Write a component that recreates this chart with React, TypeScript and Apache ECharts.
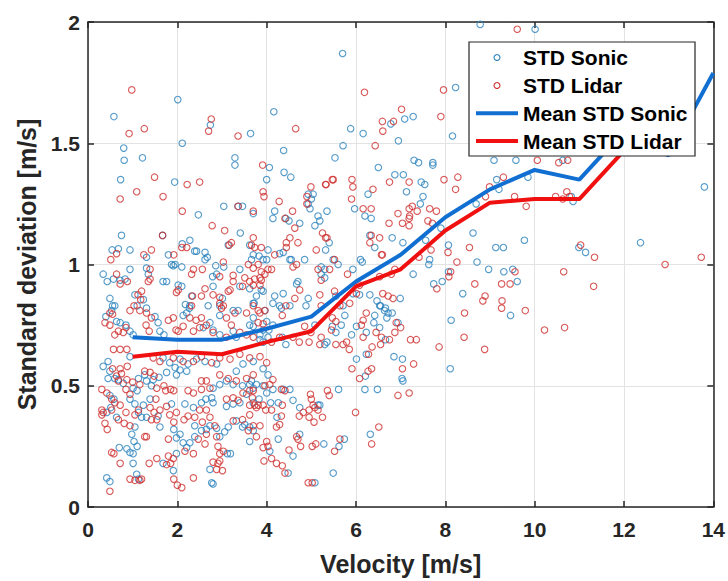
import React, { useEffect, useRef } from "react";
import * as echarts from "echarts";

// ---- data ----
const meanVelocitySonic = [1, 2, 3, 4, 5, 6, 7, 8, 9, 10, 11, 12, 13, 14];
const meanStdSonic = [0.70, 0.69, 0.69, 0.735, 0.785, 0.93, 1.04, 1.195, 1.31, 1.39, 1.35, 1.55, 1.45, 1.79];
const meanVelocityLidar = [1, 2, 3, 4, 5, 6, 7, 8, 9, 10, 11, 12, 13];
const meanStdLidar = [0.62, 0.64, 0.63, 0.68, 0.725, 0.91, 0.98, 1.14, 1.255, 1.27, 1.27, 1.47, 1.52];

const xTicks = [0, 2, 4, 6, 8, 10, 12, 14];
const yTicks = [0, 0.5, 1, 1.5, 2];

const stdSonic: number[][] = [
  [2.01,1.68],[0.58,1.61],[2.74,1.575],[3.64,1.54],[2.11,1.50],[0.80,1.48],[0.81,1.43],[1.22,1.44],[3.29,1.44],[3.29,1.41],[0.73,1.35],[1.94,1.34],
  [5.70,1.87],[8.23,1.73],[4.16,1.63],[7.28,1.61],[7.09,1.60],[6.78,1.58],[5.88,1.56],[6.16,1.54],[8.16,1.53],[6.95,1.51],[5.71,1.49],[4.38,1.47],[5.53,1.44],[4.06,1.40],[4.39,1.38],[4.54,1.36],[4.00,1.35],[6.50,1.40],[7.30,1.43],[7.40,1.42],[7.72,1.42],[7.72,1.41],[6.87,1.37],[7.06,1.37],[7.46,1.34],[7.54,1.33],
  [8.78,1.99],[10.01,1.97],[9.09,1.43],[9.58,1.43],[10.63,1.43],
  [10.86,1.26],[13.80,1.32],
  [9.85,1.36],[9.15,1.35],[9.20,1.31],[10.82,1.28],[9.77,1.10],[9.13,1.07],[9.30,1.07],[10.99,1.07],[11.14,1.05],[12.37,1.09],[8.97,0.98],[9.31,0.97],[9.51,0.98],[9.61,0.93],[9.46,0.79],
  [7.13,1.30],[7.50,1.28],[7.44,1.25],[8.69,1.25],[7.90,1.15],[8.62,1.13],[6.81,1.11],[7.05,1.09],[7.56,1.10],[8.07,1.08],[7.65,1.02],[7.63,1.00],[8.71,1.01],[7.28,0.96],[8.07,0.97],[7.93,0.93],[7.74,0.92],[6.99,0.86],[8.39,0.88],[6.53,0.83],[6.64,0.81],[6.81,0.80],[6.69,0.78],[6.53,0.74],[8.13,0.77],[6.66,0.69],[6.85,0.62],[7.04,0.61],[8.11,0.57],[7.03,0.53],[7.05,0.52],
  [5.35,0.68],[6.01,0.61],[6.21,0.54],[6.23,0.63],[6.20,0.485],[6.48,0.485],[5.61,0.485],[6.32,0.30],[5.74,0.28],[5.62,0.25],[5.49,0.14],[5.08,0.10],[5.28,0.26],[4.59,0.21],[4.48,0.14],[4.26,0.28],[4.74,0.30],[4.07,0.23],[3.62,0.27],[3.62,0.33],[4.23,0.37],[4.26,0.43],[4.09,0.43],[4.59,0.44],[4.74,0.41],[5.15,0.42],[5.19,0.42],[3.62,0.505],[3.77,0.505],[3.92,0.50],[4.14,0.485],[4.37,0.485],[4.52,0.485],[3.66,0.52],
  [4.18,1.22],[4.14,1.19],[4.43,1.19],[4.50,1.18],[4.74,1.17],[4.93,1.29],[5.04,1.29],[5.00,1.27],[4.93,1.25],[4.97,1.23],[5.15,1.20],[5.19,1.18],[5.08,1.16],[5.35,1.22],[5.32,1.06],[5.40,1.09],[5.60,1.00],[5.49,1.02],[5.97,1.23],[6.20,1.20],[6.34,1.19],[6.27,1.29],[6.42,1.07],[6.31,1.12],[6.10,1.02],[6.14,1.01],[6.94,0.76],[6.66,0.82],[6.55,0.83],[6.72,0.80],[6.47,0.85],[6.31,0.875],[6.42,0.79],[6.40,0.76],[6.23,0.72],[6.01,0.745],[5.90,0.71],[5.75,0.79],[5.67,0.75],[5.71,0.83],[5.55,0.72],[5.47,0.745],[5.30,0.67],[5.08,0.75],[4.43,0.67],[4.35,0.70],[3.92,0.68],[4.03,0.70],[3.85,0.69],[3.92,0.73],[4.05,0.73],[4.14,0.75],[4.29,0.83],[4.33,0.82],[4.14,0.84],[3.72,0.84],[3.70,0.78],[4.70,0.93],[4.67,0.92],[4.88,0.83],[4.93,0.86],[5.22,0.96],[5.30,0.945],[5.55,0.87],[5.93,0.88],[6.08,0.875],[5.93,0.98],[3.92,1.02],[4.00,1.02],[3.70,1.04],[3.66,1.02],[4.37,1.05],[4.29,1.045],[4.52,1.02],[4.55,1.02],[4.85,1.02],[5.22,0.99],[5.30,0.98],[3.88,0.895],[3.77,0.87],[4.18,0.87],[4.37,0.88],[4.52,0.83],
  [2.47,1.205],[3.04,1.24],[3.36,1.24],[3.46,1.24],[3.70,1.21],[3.14,1.08],[3.41,1.13],[3.62,1.08],[0.75,1.12],[1.67,1.12],[0.54,1.06],[0.68,1.065],[0.94,1.06],[1.31,1.03],[1.80,1.04],[1.87,1.00],[1.95,1.00],[2.10,0.99],[2.11,1.085],[2.28,1.10],[2.39,1.055],[2.43,1.055],[2.62,1.05],[2.67,1.03],[2.62,1.02],[2.79,0.95],[2.88,0.96],[2.86,0.995],[3.04,0.99],[3.40,0.98],[3.83,1.035],[4.03,1.06],[0.34,0.96],[0.43,0.93],[0.57,0.94],[0.72,0.935],[0.83,0.94],[0.94,0.98],[1.31,0.985],[1.35,0.96],[1.68,0.93],[1.91,0.995],[1.76,0.93],[2.02,0.915],[2.10,0.91],[2.18,0.835],[2.32,0.87],[2.27,0.82],[2.80,0.91],[3.40,0.91],[3.62,0.90],[3.70,0.84],[3.92,0.89],[3.96,0.81],[3.01,0.86],[2.95,0.83],[2.69,0.83],[2.95,0.79],[3.25,0.81],[3.36,0.81],[3.62,0.75],[0.49,0.86],[0.55,0.83],[0.60,0.83],[0.53,0.81],[0.40,0.785],[0.64,0.765],[0.72,0.76],[0.85,0.75],[0.94,0.725],[1.01,0.71],[1.10,0.83],[1.24,0.855],[1.05,0.875],[1.31,0.82],[1.50,0.785],[1.57,0.76],[1.61,0.725],[1.70,0.71],[2.13,0.79],[2.21,0.80],[2.28,0.83],[2.58,0.74],[2.73,0.76],[2.80,0.73],[2.95,0.71],[3.25,0.725],[3.32,0.70],[3.70,0.745],[4.00,0.765],[3.85,0.71],
  [0.94,0.62],[0.45,0.60],[0.34,0.58],[0.49,0.56],[0.45,0.53],[0.60,0.53],[0.68,0.525],[0.79,0.51],[0.49,0.46],[0.58,0.445],[0.51,0.41],[0.64,0.37],[0.42,0.39],[0.70,0.245],[0.87,0.24],[0.94,0.225],[1.01,0.22],[1.01,0.18],[0.42,0.12],[0.49,0.105],[1.09,0.135],[1.13,0.115],[1.10,0.25],[1.03,0.27],[0.98,0.30],[1.05,0.33],[1.13,0.39],[1.20,0.37],[1.31,0.37],[1.39,0.445],[1.24,0.42],[1.01,0.49],[1.10,0.48],[0.94,0.445],[1.05,0.425],[1.13,0.53],[1.27,0.545],[1.31,0.52],[1.42,0.50],[1.46,0.525],[1.59,0.535],[1.76,0.555],[1.98,0.545],[1.95,0.575],[2.06,0.565],[2.21,0.56],[1.87,0.425],[1.57,0.375],[1.61,0.33],[1.92,0.32],[2.06,0.30],[1.98,0.285],[1.68,0.18],[1.91,0.15],[2.13,0.265],[2.21,0.245],[1.98,0.22],[2.28,0.265],[2.39,0.29],[2.17,0.425],[2.36,0.41],[2.54,0.43],[2.64,0.445],[2.77,0.45],[2.80,0.43],[2.39,0.335],[2.54,0.315],[2.65,0.32],[2.73,0.335],[2.88,0.325],[2.73,0.155],[2.77,0.10],[2.80,0.095],[3.12,0.22],[3.19,0.22],[2.95,0.29],[3.06,0.31],[3.14,0.33],[3.32,0.355],[3.51,0.34],[3.46,0.33],[3.70,0.315],[3.10,0.415],[3.25,0.425],[3.40,0.43],[3.55,0.465],[3.70,0.43],[3.83,0.445],[4.00,0.47],[2.80,0.49],[2.95,0.505],[3.10,0.52],[3.25,0.505],[3.46,0.50],[3.70,0.49],[1.68,0.615],[1.83,0.595],[2.06,0.61],[2.24,0.59],[2.43,0.61],[2.62,0.60],[2.88,0.59],[3.32,0.56],[3.47,0.59],[3.70,0.60],[3.92,0.57],[4.03,0.545]
];

const stdLidar: number[][] = [
  [0.98,1.72],[2.76,1.60],[2.70,1.55],[1.26,1.56],[0.92,1.54],[3.36,1.53],[3.91,1.41],[1.49,1.36],[2.22,1.33],[2.50,1.34],
  [6.19,1.71],[7.96,1.72],[7.02,1.64],[6.84,1.59],[6.59,1.59],[7.90,1.61],[4.65,1.56],[6.60,1.55],[6.43,1.49],[7.19,1.34],[7.97,1.35],[8.28,1.36],[5.91,1.35],[5.49,1.35],[5.33,1.33],[4.99,1.32],[6.75,1.34],
  [9.61,1.97],[10.06,1.43],[10.54,1.42],[10.74,1.43],
  [10.72,1.30],[10.78,1.28],
  [9.30,1.36],[8.99,1.32],[8.90,1.28],[9.55,1.28],[9.81,1.24],[10.47,1.28],[10.63,1.27],[11.03,1.08],[11.34,1.03],[12.92,1.00],[13.73,1.03],[9.56,0.97],[9.26,0.92],[9.45,0.92],[10.65,0.97],[11.32,0.91],[8.89,0.87],[8.84,0.85],[9.27,0.85],[9.26,0.82],[9.79,0.81],[10.22,0.73],[10.67,0.74],[8.88,0.65],
  [8.23,1.31],[7.26,1.24],[7.37,1.22],[7.65,1.23],[7.80,1.22],[6.74,1.17],[7.04,1.17],[7.19,1.19],[7.19,1.16],[7.61,1.18],[7.71,1.17],[8.54,1.07],[8.06,1.05],[6.59,1.04],[7.41,1.03],[7.68,1.06],[8.26,1.01],[6.87,0.98],[8.12,0.97],[8.08,0.95],[7.81,0.90],[8.66,0.92],[6.53,0.95],[6.79,0.96],[6.60,0.88],[6.72,0.87],[6.83,0.86],[8.43,0.80],[6.90,0.76],[6.87,0.72],[7.00,0.74],[7.22,0.69],[7.35,0.69],[8.42,0.70],[7.86,0.66],[7.29,0.59],[7.04,0.57],[7.19,0.47],[6.94,0.46],
  [5.79,0.68],[6.16,0.70],[5.71,0.67],[5.85,0.65],[5.55,0.67],[5.91,0.57],[6.08,0.53],[6.27,0.56],[6.35,0.57],[6.28,0.63],[6.36,0.66],[5.99,0.39],[6.51,0.33],[6.35,0.26],[5.64,0.28],[5.52,0.23],[4.93,0.10],[5.02,0.10],[5.10,0.26],[5.02,0.25],[4.76,0.25],[4.50,0.235],[4.35,0.17],[4.41,0.14],[4.22,0.18],[4.67,0.29],[4.70,0.28],[4.11,0.20],[3.94,0.19],[3.92,0.245],[4.03,0.25],[4.00,0.27],[4.22,0.33],[4.29,0.34],[4.33,0.375],[4.35,0.42],[4.11,0.40],[3.98,0.40],[3.81,0.42],[3.92,0.42],[4.73,0.375],[4.82,0.39],[4.95,0.40],[5.08,0.41],[5.15,0.40],[5.25,0.37],[5.06,0.35],[4.95,0.37],[4.98,0.465],[5.00,0.445],[5.04,0.42],[5.36,0.48],[5.40,0.46],[3.96,0.50],[4.07,0.505],[4.14,0.525],[4.33,0.485],[4.41,0.48],[3.62,0.48],[3.68,0.45],[3.62,0.42],[3.73,0.42],
  [3.92,1.30],[3.94,1.28],[3.70,1.22],[4.28,1.26],[4.58,1.22],[4.41,1.19],[4.63,1.15],[4.90,1.28],[4.90,1.25],[5.32,1.33],[5.47,1.35],[5.25,1.13],[5.32,1.11],[5.35,1.11],[5.11,1.06],[5.52,1.02],[5.90,1.27],[5.93,1.32],[6.16,1.23],[6.34,1.23],[6.38,1.31],[7.19,1.23],[7.20,1.20],[6.94,1.21],[6.53,1.11],[6.34,1.12],[6.31,1.09],[6.57,1.04],[5.81,0.96],[6.45,0.72],[6.57,0.70],[6.55,0.67],[6.75,0.69],[6.23,0.80],[6.16,0.77],[6.12,0.75],[5.86,0.84],[5.64,0.83],[5.47,0.78],[5.55,0.765],[5.45,0.73],[5.22,0.70],[5.19,0.67],[4.85,0.745],[4.99,0.72],[4.95,0.68],[4.59,0.70],[4.73,0.68],[4.29,0.70],[4.11,0.68],[3.70,0.70],[3.92,0.755],[3.81,0.76],[3.96,0.81],[4.35,0.79],[4.43,0.83],[4.63,0.86],[4.74,0.895],[5.19,0.875],[5.22,0.83],[5.41,0.98],[5.52,0.89],[6.01,0.88],[6.08,0.915],[4.18,1.04],[4.11,0.98],[4.03,0.98],[3.66,1.08],[3.73,1.07],[3.88,1.07],[4.44,1.07],[4.70,1.09],[4.52,1.11],[4.44,1.09],[4.67,1.00],[4.59,0.99],[5.22,0.935],[5.15,0.98],[3.96,0.96],[3.88,0.935],[3.73,0.94],[3.70,0.915],[3.85,0.915],
  [1.09,1.30],[0.72,1.27],[1.68,1.28],[2.11,1.22],[2.78,1.16],[3.36,1.24],[3.06,1.14],[3.16,1.08],[3.21,1.09],[3.70,1.11],[1.67,1.12],[0.51,1.02],[0.64,1.045],[1.25,1.04],[1.42,1.06],[2.21,1.07],[2.10,1.07],[1.92,1.04],[2.36,0.98],[2.32,0.96],[2.56,0.98],[3.03,1.01],[2.95,0.95],[3.25,0.955],[3.59,1.00],[3.51,0.945],[3.70,0.985],[3.81,1.00],[3.88,0.97],[3.85,0.945],[0.64,0.96],[0.88,0.93],[0.72,0.92],[1.39,0.98],[1.39,0.94],[1.35,0.93],[2.02,0.895],[1.98,0.885],[2.34,0.87],[2.54,0.87],[2.32,0.83],[2.62,0.90],[2.80,0.875],[2.95,0.865],[3.14,0.89],[3.18,0.895],[3.25,0.93],[3.46,0.91],[3.62,0.93],[3.70,0.83],[3.81,0.81],[3.85,0.80],[2.95,0.84],[3.03,0.83],[2.99,0.82],[3.29,0.80],[3.55,0.80],[3.10,0.78],[3.21,0.75],[0.49,0.80],[0.55,0.795],[0.49,0.75],[0.38,0.76],[0.68,0.725],[0.79,0.72],[0.60,0.71],[0.85,0.74],[0.94,0.81],[1.03,0.83],[1.16,0.81],[1.20,0.89],[1.12,0.875],[1.18,0.855],[1.31,0.80],[1.42,0.78],[1.30,0.75],[1.37,0.725],[1.80,0.77],[1.91,0.78],[1.97,0.73],[2.02,0.725],[2.13,0.745],[2.28,0.78],[2.42,0.77],[2.54,0.78],[2.50,0.74],[2.65,0.75],[2.36,0.725],[2.80,0.72],[3.10,0.70],[3.40,0.72],[3.55,0.71],
  [0.57,0.65],[0.72,0.65],[0.87,0.65],[0.55,0.57],[0.72,0.57],[0.88,0.58],[0.64,0.54],[0.75,0.55],[0.68,0.52],[0.85,0.485],[0.31,0.485],[0.42,0.47],[0.53,0.445],[0.60,0.43],[0.72,0.42],[0.31,0.40],[0.34,0.39],[0.31,0.38],[0.53,0.40],[0.38,0.345],[0.43,0.32],[0.68,0.36],[0.81,0.345],[0.53,0.225],[0.58,0.22],[0.72,0.18],[0.49,0.065],[0.94,0.115],[1.05,0.11],[1.16,0.11],[1.20,0.115],[1.37,0.18],[1.54,0.20],[1.31,0.29],[0.94,0.335],[0.85,0.39],[1.27,0.29],[1.05,0.38],[1.13,0.40],[1.42,0.36],[1.54,0.36],[1.48,0.39],[1.52,0.445],[1.39,0.41],[1.61,0.40],[0.87,0.525],[1.00,0.515],[1.16,0.505],[0.94,0.465],[1.27,0.56],[1.39,0.555],[1.48,0.54],[1.54,0.49],[1.70,0.50],[1.74,0.48],[1.85,0.485],[1.92,0.48],[1.76,0.415],[1.83,0.38],[1.98,0.39],[1.92,0.35],[2.15,0.36],[2.24,0.375],[1.80,0.28],[1.80,0.21],[1.85,0.18],[1.76,0.175],[1.91,0.20],[1.92,0.115],[2.00,0.09],[2.10,0.08],[2.36,0.12],[2.17,0.23],[2.36,0.22],[2.24,0.48],[2.36,0.47],[2.54,0.485],[2.73,0.49],[2.54,0.52],[2.65,0.52],[2.50,0.40],[2.65,0.40],[2.39,0.37],[2.56,0.35],[2.73,0.37],[2.65,0.30],[2.47,0.28],[2.62,0.26],[2.88,0.29],[2.84,0.335],[2.91,0.25],[3.03,0.23],[2.95,0.22],[2.80,0.185],[2.91,0.18],[2.95,0.19],[2.88,0.155],[3.01,0.15],[3.25,0.355],[3.46,0.36],[3.62,0.38],[3.70,0.335],[3.85,0.335],[3.59,0.315],[3.77,0.29],[3.10,0.445],[3.25,0.45],[3.36,0.44],[3.47,0.47],[3.70,0.48],[3.77,0.41],[2.95,0.545],[3.14,0.53],[3.32,0.52],[3.55,0.53],[3.70,0.545],[1.46,0.615],[1.61,0.60],[1.91,0.615],[2.13,0.60],[2.36,0.60],[2.54,0.62],[2.77,0.595],[2.95,0.615],[3.18,0.61],[3.40,0.63],[3.62,0.615],[3.85,0.62],[4.00,0.595]
];

const seriesNames = ["STD Sonic", "STD Lidar", "Mean STD Sonic", "Mean STD Lidar"];

// ---- styles ----
const FONT = '"Liberation Sans", Arial, Helvetica, sans-serif';
const AXIS_COLOR = "#262626";
const GRID_COLOR = "#e3e3e3";
const SONIC_DOT = "#2a82bd";
const LIDAR_DOT = "#d03030";
const SONIC_LINE = "#126fd2";
const LIDAR_LINE = "#f01010";

export default function App() {
  const ref = useRef<HTMLDivElement>(null);

  useEffect(() => {
    if (!ref.current) return;
    const chart = echarts.init(ref.current, undefined, { renderer: "svg" });

    const axisLine = { show: true, onZero: false, lineStyle: { color: AXIS_COLOR, width: 1.5 } };
    const axisTick = { show: true, inside: true, length: 6, lineStyle: { color: AXIS_COLOR, width: 1.5 } };
    const labelStyle = { fontFamily: FONT, fontWeight: "bold" as const, fontSize: 21, color: AXIS_COLOR };
    const nameStyle = { fontFamily: FONT, fontWeight: "bold" as const, fontSize: 25, color: AXIS_COLOR };

    const legendX = 469, legendY = 42, legendW = 226, legendH = 114;
    const rowY = [57.5, 85.5, 113.2, 141];
    const iconCx = 497, lineX1 = 476, lineX2 = 518, textX = 523;

    const legendText = (i: number) => ({
      type: "text",
      x: textX,
      y: rowY[i],
      z: 102,
      style: {
        text: seriesNames[i],
        fontFamily: FONT,
        fontWeight: "bold",
        fontSize: 21,
        fill: "#000",
        verticalAlign: "middle",
        align: "left",
      },
    });

    chart.setOption({
      animation: false,
      backgroundColor: "#fff",
      grid: { left: 88, right: 14, top: 22, bottom: 71, containLabel: false },
      xAxis: [
        {
          type: "value",
          min: xTicks[0],
          max: xTicks[xTicks.length - 1],
          interval: xTicks[1] - xTicks[0],
          position: "bottom",
          axisLine,
          axisTick,
          axisLabel: { ...labelStyle, margin: 12 },
          splitLine: { show: true, lineStyle: { color: GRID_COLOR, width: 1 } },
          name: "Velocity [m/s]",
          nameLocation: "middle",
          nameGap: 44,
          nameTextStyle: nameStyle,
        },
        {
          type: "value",
          min: xTicks[0],
          max: xTicks[xTicks.length - 1],
          interval: xTicks[1] - xTicks[0],
          position: "top",
          axisLine,
          axisTick,
          axisLabel: { show: false },
          splitLine: { show: false },
        },
      ],
      yAxis: [
        {
          type: "value",
          min: yTicks[0],
          max: yTicks[yTicks.length - 1],
          interval: yTicks[1] - yTicks[0],
          position: "left",
          axisLine,
          axisTick,
          axisLabel: { ...labelStyle, margin: 8 },
          splitLine: { show: true, lineStyle: { color: GRID_COLOR, width: 1 } },
          name: "Standard deviation [m/s]",
          nameLocation: "middle",
          nameGap: 48,
          nameTextStyle: nameStyle,
        },
        {
          type: "value",
          min: yTicks[0],
          max: yTicks[yTicks.length - 1],
          interval: yTicks[1] - yTicks[0],
          position: "right",
          axisLine,
          axisTick,
          axisLabel: { show: false },
          splitLine: { show: false },
        },
      ],
      series: [
        {
          name: seriesNames[0],
          type: "scatter",
          data: stdSonic,
          symbol: "circle",
          symbolSize: 6.5,
          itemStyle: { color: "rgba(0,0,0,0)", borderColor: SONIC_DOT, borderWidth: 1.1 },
          silent: true,
          z: 2,
        },
        {
          name: seriesNames[1],
          type: "scatter",
          data: stdLidar,
          symbol: "circle",
          symbolSize: 6.5,
          itemStyle: { color: "rgba(0,0,0,0)", borderColor: LIDAR_DOT, borderWidth: 1.1 },
          silent: true,
          z: 3,
        },
        {
          name: seriesNames[2],
          type: "line",
          data: meanVelocitySonic.map((v, i) => [v, meanStdSonic[i]]),
          showSymbol: false,
          lineStyle: { color: SONIC_LINE, width: 4 },
          itemStyle: { color: SONIC_LINE },
          silent: true,
          z: 4,
        },
        {
          name: seriesNames[3],
          type: "line",
          data: meanVelocityLidar.map((v, i) => [v, meanStdLidar[i]]),
          showSymbol: false,
          lineStyle: { color: LIDAR_LINE, width: 4 },
          itemStyle: { color: LIDAR_LINE },
          silent: true,
          z: 5,
        },
      ],
      graphic: [
        {
          type: "rect",
          z: 100,
          shape: { x: legendX, y: legendY, width: legendW, height: legendH },
          style: { fill: "#fff", stroke: AXIS_COLOR, lineWidth: 1.2 },
        },
        {
          type: "circle",
          z: 101,
          shape: { cx: iconCx, cy: rowY[0], r: 3 },
          style: { fill: "none", stroke: SONIC_DOT, lineWidth: 1.1 },
        },
        {
          type: "circle",
          z: 101,
          shape: { cx: iconCx, cy: rowY[1], r: 3 },
          style: { fill: "none", stroke: LIDAR_DOT, lineWidth: 1.1 },
        },
        {
          type: "line",
          z: 101,
          shape: { x1: lineX1, y1: rowY[2], x2: lineX2, y2: rowY[2] },
          style: { stroke: SONIC_LINE, lineWidth: 4 },
        },
        {
          type: "line",
          z: 101,
          shape: { x1: lineX1, y1: rowY[3], x2: lineX2, y2: rowY[3] },
          style: { stroke: LIDAR_LINE, lineWidth: 4 },
        },
        legendText(0),
        legendText(1),
        legendText(2),
        legendText(3),
      ],
    });

    return () => chart.dispose();
  }, []);

  return (
    <div
      ref={ref}
      style={{ position: "fixed", left: 0, top: 0, width: 728, height: 581, background: "#fff" }}
    />
  );
}
